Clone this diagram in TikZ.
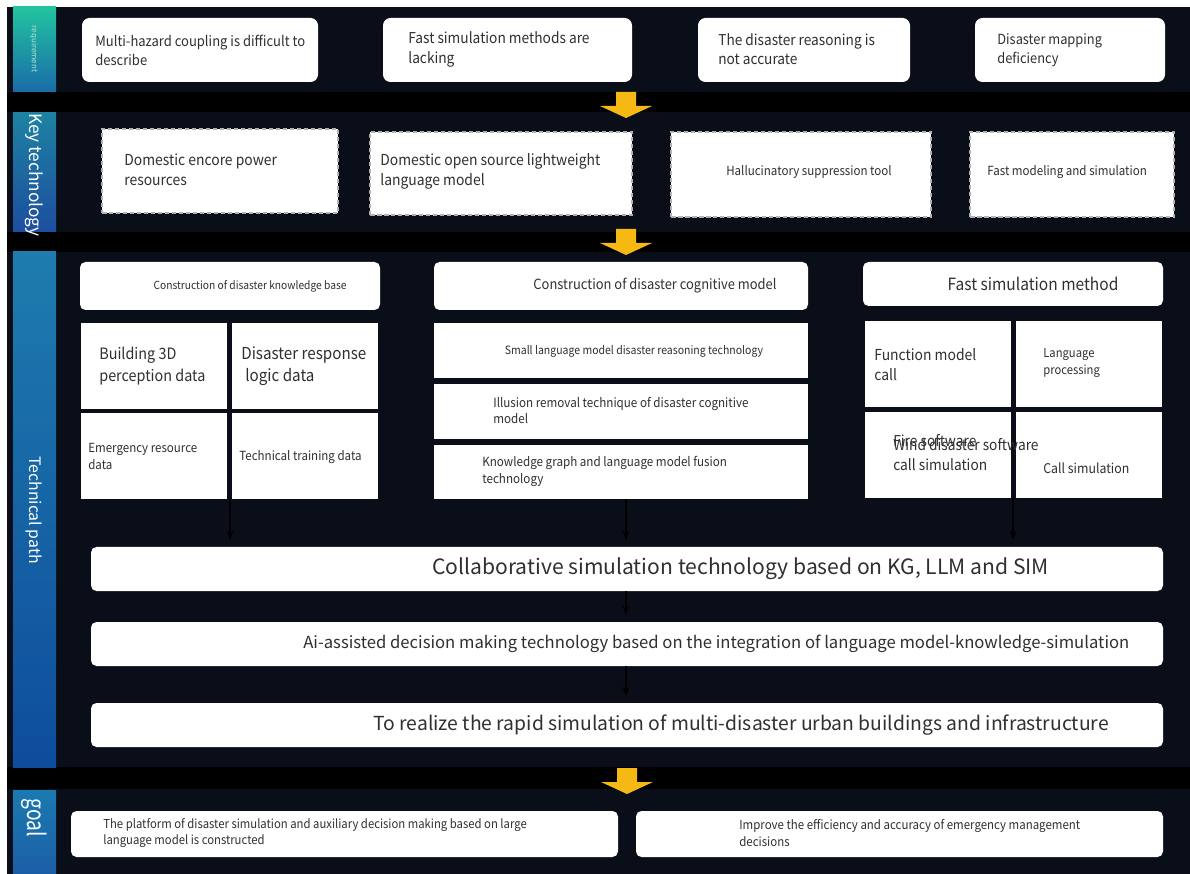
\documentclass[tikz,border=0pt]{standalone}
\usepackage{fontspec}
\usepackage{graphicx}
\newfontfamily\ns{Noto Sans CJK SC}
\newfontfamily\nsc[FakeStretch=0.92]{Noto Sans CJK SC}
\usetikzlibrary{fit,arrows.meta}
\definecolor{band}{HTML}{0A0E18}
\definecolor{ink}{HTML}{303030}
\definecolor{gold}{HTML}{F6B914}
\newcommand{\fz}[2]{\ns\fontsize{#1}{#2}\selectfont}
\newcommand{\fc}[2]{\nsc\fontsize{#1}{#2}\selectfont}
\begin{document}
\begin{tikzpicture}[x=0.02cm,y=-0.02cm,
  box/.style={fill=white, draw=none, inner sep=0pt},
  rbox/.style={box, rounded corners=0.15cm},
  sbox/.style={box, rounded corners=0.11cm},
  dbox/.style={box, draw=gray!60, dash pattern=on 0.09cm off 0.05cm, line width=0.7pt},
  txt/.style={text=ink, inner sep=0pt, align=left, anchor=west},
  ctxt/.style={text=ink, inner sep=0pt, align=center},
  lab/.style={text=white, inner sep=0pt, rotate=-90},
  darr/.style={draw=black, line width=0.8pt, -{Stealth[length=5pt,width=4pt]}, shorten >=7*0.02cm},
  yarrow/.pic={\fill[gold] (-10,0) -- (10,0) -- (10,14) -- (26,14) -- (0,26) -- (-26,14) -- (-10,14) -- cycle;}
]
\useasboundingbox (0,0) rectangle (1190,874);
\fill[white] (0,0) rectangle (1190,874);
\fill[black] (7,7) rectangle (1190,874);
% bands
\fill[band] (7,7) rectangle (1190,92);
\fill[band] (7,112) rectangle (1190,232);
\fill[band] (7,252) rectangle (1190,767);
\fill[band] (7,789) rectangle (1190,874);
% side labels
\shade[top color={rgb,255:red,34;green,196;blue,160}, bottom color={rgb,255:red,26;green,107;blue,168}] (13,7) rectangle (56,92);
\shade[top color={rgb,255:red,30;green,130;blue,162}, bottom color={rgb,255:red,28;green,78;blue,160}] (13,113) rectangle (56,232);
\shade[top color={rgb,255:red,30;green,124;blue,174}, bottom color={rgb,255:red,14;green,76;blue,156}] (13,252) rectangle (56,767);
\shade[top color={rgb,255:red,26;green,122;blue,176}, bottom color={rgb,255:red,28;green,94;blue,166}] (13,790) rectangle (56,874);
\node[lab, text={rgb,255:red,170;green,230;blue,214}, font=\fz{4.5}{5}] (reqL) at (34,49) {requirement};
\node[lab, font=\fz{9.8}{11}] (keyL) at (34,175) {Key technology};
\node[lab, font=\fz{9}{11}] (techL) at (34,510) {Technical path};
\node[lab, font=\fz{14}{15}] (goalL) at (34,818) {\scalebox{0.78}[1]{goal}};

% requirement row
\node[rbox, fit={(82,18)(318,82)}] (r1) {};
\node[rbox, fit={(383,18)(632,82)}] (r2) {};
\node[rbox, fit={(698,18)(910,82)}] (r3) {};
\node[rbox, fit={(975,18)(1165,82)}] (r4) {};
\node[txt, font=\fc{8.05}{11}] (r1t) at (95,50.5) {Multi-hazard coupling is difficult to\\describe};
\node[txt, font=\fc{8.5}{11}] (r2t) at (408,49.5) {Fast simulation methods are\\lacking};
\node[txt, font=\fc{8.45}{11}] (r3t) at (718,49.5) {The disaster reasoning is\\not accurate};
\node[txt, font=\fc{7.95}{11}] (r4t) at (997,50) {Disaster mapping\\deficiency};

% key technology row
\node[dbox, fit={(102,129)(338,213)}] (k1) {};
\node[dbox, fit={(370,132)(632,215)}] (k2) {};
\node[dbox, fit={(671,132)(931,217)}] (k3) {};
\node[dbox, fit={(970,132)(1174,217)}] (k4) {};
\node[txt, font=\fc{8.6}{11.3}] (k1t) at (124,170) {Domestic encore power\\resources};
\node[txt, font=\fc{8.6}{11.3}] (k2t) at (380,171.5) {Domestic open source lightweight\\language model};
\node[ctxt, font=\fc{7.16}{9}] (k3t) at (809,172) {Hallucinatory suppression tool};
\node[txt, font=\fc{7.16}{9}] (k4t) at (987,172) {Fast modeling and simulation};

% technical path headers
\node[sbox, fit={(80,262)(380,310)}] (h1) {};
\node[sbox, fit={(434,262)(808,310)}] (h2) {};
\node[sbox, fit={(863,262)(1163,306)}] (h3) {};
\node[ctxt, font=\fc{6.33}{8}] (h1t) at (250,286) {Construction of disaster knowledge base};
\node[ctxt, font=\fc{8.0}{9}] (h2t) at (655,286) {Construction of disaster cognitive model};
\node[ctxt, font=\fc{9.6}{11}] (h3t) at (1033,284) {Fast simulation method};

% knowledge base cells
\node[box, fit={(81,323)(227,409)}] (c11) {};
\node[box, fit={(232,323)(378,409)}] (c12) {};
\node[box, fit={(81,413)(227,499)}] (c13) {};
\node[box, fit={(232,413)(378,499)}] (c14) {};
\node[txt, font=\fc{8.9}{12.5}] (c11t) at (99,366) {Building 3D\\perception data};
\node[txt, font=\fc{9.4}{12.5}] (c12t) at (241,366) {Disaster response\\\hspace*{2.3pt}logic data};
\node[txt, font=\fc{7.13}{10}] (c13t) at (88,456.5) {Emergency resource\\data};
\node[txt, font=\fc{7.14}{9}] (c14t) at (239,457) {Technical training data};

% cognitive model cells
\node[box, fit={(434,323)(808,378)}] (m1) {};
\node[box, fit={(434,384)(808,439)}] (m2) {};
\node[box, fit={(434,445)(808,499)}] (m3) {};
\node[ctxt, font=\fc{6.5}{8}] (m1t) at (634,351) {Small language model disaster reasoning technology};
\node[txt, font=\fc{7.2}{9.6}] (m2t) at (493,410.5) {Illusion removal technique of disaster cognitive\\model};
\node[txt, font=\fc{7.2}{9.6}] (m3t) at (482,471.5) {Knowledge graph and language model fusion\\technology};

% fast simulation cells
\node[box, fit={(865,321)(1011,407)}] (f1) {};
\node[box, fit={(1016,321)(1162,407)}] (f2) {};
\node[box, fit={(865,412)(1011,498)}] (f3) {};
\node[box, fit={(1016,412)(1162,498)}] (f4) {};
\node[txt, font=\fc{8.6}{11.3}] (f1t) at (874,365) {Function model\\call};
\node[txt, font=\fc{6.95}{9.4}] (f2t) at (1043,363) {Language\\processing};
\node[txt, font=\fc{8.5}{10}] (f3a) at (893,441) {Fire software};
\node[txt, font=\fc{8.5}{10}] (f3b) at (893,445) {Wind disaster software};
\node[txt, font=\fc{8.5}{10}] (f3c) at (893,465) {call simulation};
\node[txt, font=\fc{7.63}{9}] (f4t) at (1043,468) {Call simulation};

% wide boxes
\node[sbox, fit={(91,547)(1163,591)}] (b1) {};
\node[sbox, fit={(91,622)(1163,666)}] (b2) {};
\node[sbox, fit={(91,703)(1163,747)}] (b3) {};
\node[txt, font=\fz{12}{13}] (b1t) at (432,569) {Collaborative simulation technology based on KG, LLM and SIM};
\node[txt, font=\fz{9.48}{12}] (b2t) at (303,644) {Ai-assisted decision making technology based on the integration of language model-knowledge-simulation};
\node[txt, font=\fz{11}{13}] (b3t) at (373,725) {To realize the rapid simulation of multi-disaster urban buildings and infrastructure};

% goal boxes
\node[sbox, fit={(71,811)(618,857)}] (g1) {};
\node[sbox, fit={(636,811)(1163,857)}] (g2) {};
\node[txt, font=\fc{7.0}{9.6}] (g1t) at (103,833) {The platform of disaster simulation and auxiliary decision making based on large\\language model is constructed};
\node[txt, font=\fc{7.1}{9.6}] (g2t) at (739,833) {Improve the efficiency and accuracy of emergency management\\decisions};

% yellow block arrows
\pic at (626,92) {yarrow};
\pic at (626,229) {yarrow};
\pic at (627,768) {yarrow};

% small connectors
\coordinate (s1) at (230,499);
\coordinate (s2) at (626,499);
\coordinate (s3) at (1013,498);
\draw[darr] (s1) -- (s1 |- b1.north);
\draw[darr] (s2) -- (s2 |- b1.north);
\draw[darr] (s3) -- (s3 |- b1.north);
\draw[darr] (b1.south -| s2) -- (b2.north -| s2);
\draw[darr] (b2.south -| s2) -- (b3.north -| s2);
\end{tikzpicture}
\end{document}
